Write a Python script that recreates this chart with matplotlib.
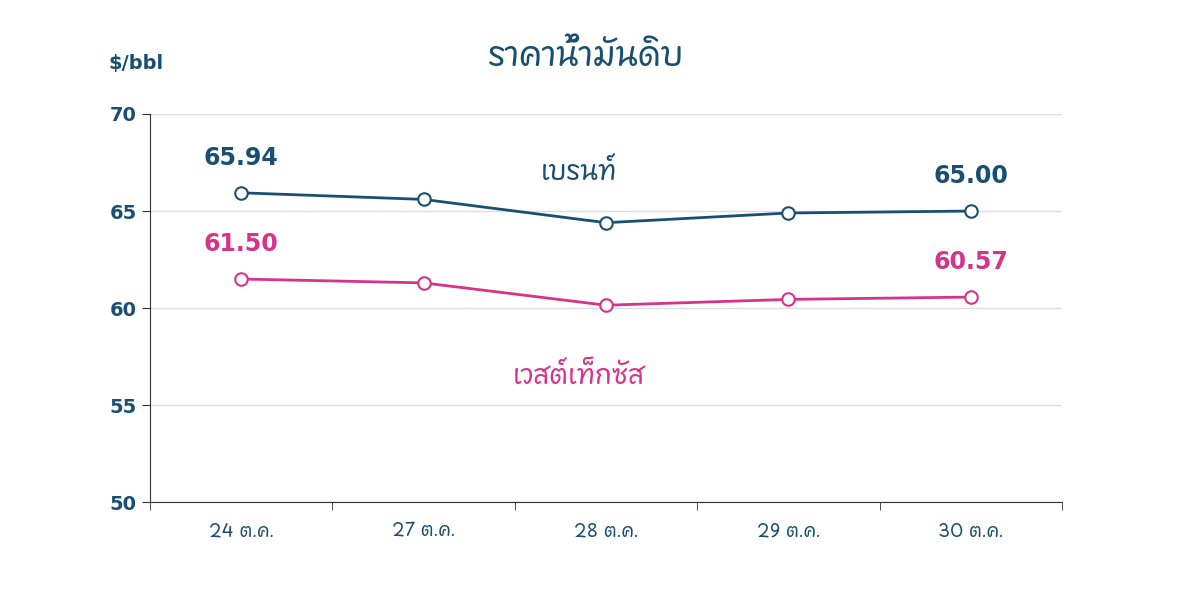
import matplotlib
matplotlib.use("Agg")
import matplotlib.pyplot as plt
from matplotlib import font_manager as fm
from matplotlib.ft2font import FT2Font

# find installed fonts with Thai glyphs, prefer proportional sans
cands = []
for f in fm.findSystemFonts():
    try:
        if ord("ก") in FT2Font(f).get_charmap():
            name = fm.FontProperties(fname=f).get_name()
            score = 0
            low = (name + f).lower()
            if "mono" in low or "typo" in low or "tlwg" in low:
                score -= 10
            if "thai" in low:
                score += 5
            if "sans" in low or "loma" in low or "garuda" in low or "kinnari" in low:
                score += 3
            cands.append((score, name))
    except Exception:
        pass
cands.sort(reverse=True)
thai_font = cands[0][1] if cands else None
THAI = ([thai_font] if thai_font else []) + ["DejaVu Sans"]
plt.rcParams["font.family"] = ["DejaVu Sans"]

dates = ["24 ต.ค.", "27 ต.ค.", "28 ต.ค.", "29 ต.ค.", "30 ต.ค."]
brent = [65.94, 65.60, 64.40, 64.90, 65.00]
wti = [61.50, 61.30, 60.15, 60.45, 60.57]

BLUE = "#1b4f72"
PINK = "#d6338a"

fig = plt.figure(figsize=(12, 6.03), dpi=100)
ax = fig.add_axes([0.125, 0.167, 0.76, 0.644])
x = range(len(dates))
ax.plot(x, brent, color=BLUE, lw=2, marker="o", ms=9, mfc="white", mec=BLUE, mew=1.5, zorder=3)
ax.plot(x, wti, color=PINK, lw=2, marker="o", ms=9, mfc="white", mec=PINK, mew=1.5, zorder=3)

ax.set_xlim(-0.5, len(dates) - 0.5)
ax.set_ylim(50, 70)
ax.set_yticks(range(50, 71, 5))
ax.set_xticks(list(x))
ax.set_xticklabels(dates)
ax.set_xticks([i + 0.5 for i in range(-1, len(dates))], minor=True)
ax.tick_params(axis="x", which="major", length=0, pad=14, labelsize=13, labelcolor=BLUE)
ax.tick_params(axis="x", which="minor", length=6, color="#333333", direction="out")
ax.tick_params(axis="y", length=6, labelsize=14, labelcolor=BLUE, color="#333333")
for lab in ax.get_xticklabels():
    lab.set_family(THAI)
    lab.set_fontweight("bold")
for lab in ax.get_yticklabels():
    lab.set_fontweight("bold")
ax.grid(axis="y", color="#dddddd", lw=1)
ax.set_axisbelow(True)
for s in ["top", "right"]:
    ax.spines[s].set_visible(False)
ax.spines["left"].set_color("#333333")
ax.spines["bottom"].set_color("#333333")

for i, series, col in [(0, brent, BLUE), (4, brent, BLUE), (0, wti, PINK), (4, wti, PINK)]:
    ax.annotate(f"{series[i]:.2f}", (i, series[i]), xytext=(0, 20), textcoords="offset points",
                ha="center", fontsize=17, fontweight="bold", color=col)
ax.text(1.85, 66.6, "เบรนท์", fontsize=19, fontweight="bold", color=BLUE, ha="center", family=THAI)
ax.text(1.85, 56.1, "เวสต์เท็กซัส", fontsize=19, fontweight="bold", color=PINK, ha="center", family=THAI)

fig.text(0.488, 0.89, "ราคาน้ำมันดิบ", fontsize=24, fontweight="bold", color=BLUE, ha="center", family=THAI)
fig.text(0.09, 0.885, "$/bbl", fontsize=14, fontweight="bold", color=BLUE)

fig.savefig("out.png", dpi=100)
